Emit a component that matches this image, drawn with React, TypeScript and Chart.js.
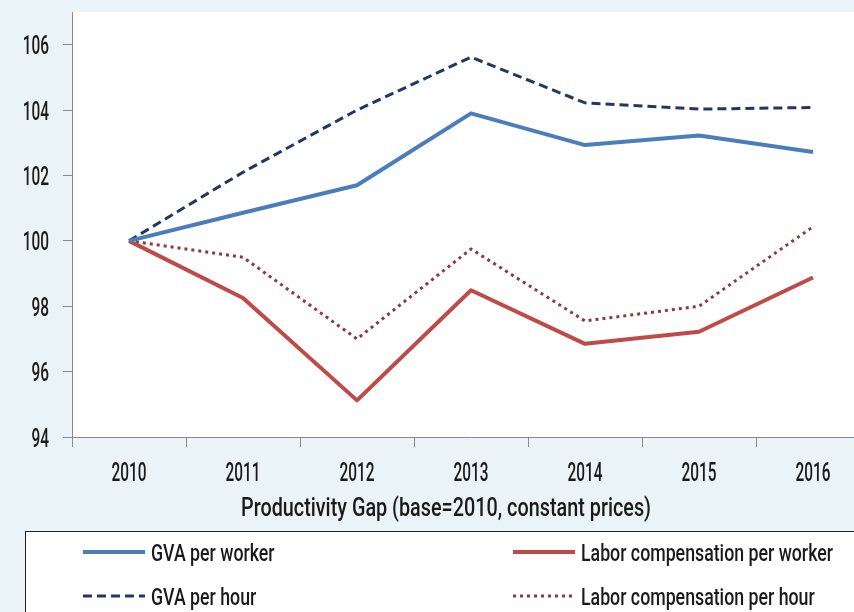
import React, { useEffect, useRef } from "react";
import { Chart, registerables } from "chart.js";

Chart.register(...registerables);

const years = ["2010", "2011", "2012", "2013", "2014", "2015", "2016"];
const gvaPerWorker = [100, 100.86, 101.7, 103.9, 102.93, 103.22, 102.72];
const gvaPerHour = [100, 102.1, 104.0, 105.62, 104.22, 104.03, 104.08];
const laborPerWorker = [100, 98.25, 95.12, 98.49, 96.85, 97.22, 98.88];
const laborPerHour = [100, 99.5, 97.0, 99.75, 97.55, 98.0, 100.43];
const yTickValues = [94, 96, 98, 100, 102, 104, 106];
const xTitle = "Productivity Gap (base=2010, constant prices)";

const FONT = "Roboto, 'DejaVu Sans Condensed', 'Liberation Sans', sans-serif";
const WEIGHT = 500;
const TEXT = "#1a1a1a";
const AXIS = "#8a8a8a";

function squeezed(ctx: any, text: string, x: number, y: number, size: number, sx: number, align: string) {
  ctx.save();
  ctx.font = `${WEIGHT} ${size}px ${FONT}`;
  ctx.textAlign = align;
  ctx.textBaseline = "alphabetic";
  ctx.translate(x, y);
  ctx.scale(sx, 1);
  ctx.fillText(text, 0, 0);
  ctx.restore();
}

function fitScale(ctx: any, sample: string, size: number, target: number) {
  ctx.save();
  ctx.font = `${WEIGHT} ${size}px ${FONT}`;
  const w = ctx.measureText(sample).width;
  ctx.restore();
  return w > 0 ? target / w : 1;
}

const plotBg = {
  id: "plotBg",
  beforeDraw(chart: any) {
    const { ctx, chartArea } = chart;
    ctx.save();
    ctx.fillStyle = "#ffffff";
    ctx.fillRect(chartArea.left, chartArea.top, chartArea.right - chartArea.left, chartArea.bottom - chartArea.top);
    ctx.restore();
  },
};

const textLayer = {
  id: "textLayer",
  afterDraw(chart: any) {
    const { ctx } = chart;
    const xs = chart.scales.x;
    const ys = chart.scales.y;
    ctx.save();
    ctx.fillStyle = TEXT;

    // tick labels (positions from the chart scales)
    const tickSize = 26;
    const tickSx = fitScale(ctx, "2010", tickSize, 35);
    xs.ticks.forEach((t: any, i: number) => {
      const label = xs.getLabelForValue(t.value);
      squeezed(ctx, label, xs.getPixelForTick(i), 481, tickSize, tickSx, "center");
    });
    ys.ticks.forEach((t: any) => {
      squeezed(ctx, String(t.value), 49, ys.getPixelForValue(t.value) + 9.5, tickSize, tickSx, "right");
    });

    // axis title
    const titleSize = 26;
    const titleSx = fitScale(ctx, xTitle, titleSize, 410);
    squeezed(ctx, xTitle, 446, 516, titleSize, titleSx, "center");

    // legend box
    ctx.fillStyle = "#ffffff";
    ctx.fillRect(25.5, 531.5, 900, 200);
    ctx.strokeStyle = "#222222";
    ctx.lineWidth = 1;
    ctx.strokeRect(25.5, 531.5, 900, 200);

    const legSize = 24;
    const legSx = fitScale(ctx, "Labor compensation per worker", legSize, 252);
    const pos = [
      { x: 83, y: 552 },
      { x: 83, y: 596 },
      { x: 513, y: 552 },
      { x: 513, y: 596 },
    ];
    chart.data.datasets.forEach((ds: any, i: number) => {
      const p = pos[i];
      ctx.save();
      ctx.strokeStyle = ds.borderColor;
      ctx.lineWidth = ds.borderWidth;
      ctx.lineCap = "butt";
      ctx.setLineDash(ds.borderDash || []);
      ctx.beginPath();
      ctx.moveTo(p.x, p.y);
      ctx.lineTo(p.x + 62, p.y);
      ctx.stroke();
      ctx.restore();
      ctx.fillStyle = TEXT;
      squeezed(ctx, ds.label, p.x + 68, p.y + 9, legSize, legSx, "left");
    });
    ctx.restore();
  },
};

export default function App() {
  const ref = useRef<HTMLCanvasElement | null>(null);

  useEffect(() => {
    if (!ref.current) return;
    const chart = new Chart(ref.current, {
      type: "line",
      data: {
        labels: years,
        datasets: [
          {
            label: "GVA per worker",
            data: gvaPerWorker,
            borderColor: "#4a7ebb",
            borderWidth: 4,
            pointRadius: 0,
            borderJoinStyle: "round",
            tension: 0,
          },
          {
            label: "GVA per hour",
            data: gvaPerHour,
            borderColor: "#1f3864",
            borderWidth: 3,
            borderDash: [9, 5],
            pointRadius: 0,
            tension: 0,
          },
          {
            label: "Labor compensation per worker",
            data: laborPerWorker,
            borderColor: "#be4b48",
            borderWidth: 4,
            pointRadius: 0,
            borderJoinStyle: "round",
            tension: 0,
          },
          {
            label: "Labor compensation per hour",
            data: laborPerHour,
            borderColor: "#8e3a3a",
            borderWidth: 3,
            borderDash: [3, 4],
            pointRadius: 0,
            tension: 0,
          },
        ],
      },
      options: {
        animation: false,
        responsive: false,
        layout: { padding: { left: 0, top: 12, right: 20, bottom: 163 } },
        plugins: {
          legend: { display: false },
          tooltip: { enabled: false },
          title: { display: false },
        },
        scales: {
          x: {
            type: "category",
            offset: true,
            grid: {
              display: true,
              drawOnChartArea: false,
              drawTicks: true,
              tickLength: 10,
              offset: true,
              color: AXIS,
            },
            border: { display: true, color: AXIS, width: 1 },
            ticks: { display: false, autoSkip: false, maxRotation: 0 },
            afterFit(scale: any) {
              scale.height = 40;
              scale.paddingLeft = 0;
              scale.paddingRight = 0;
            },
          },
          y: {
            type: "linear",
            min: 94,
            max: 107,
            grid: {
              display: true,
              drawOnChartArea: false,
              drawTicks: true,
              tickLength: 9,
              color: AXIS,
            },
            border: { display: true, color: AXIS, width: 1 },
            ticks: { display: false, stepSize: 2 },
            afterBuildTicks(scale: any) {
              scale.ticks = yTickValues.map((v) => ({ value: v }));
            },
            afterFit(scale: any) {
              scale.width = 72;
              scale.paddingTop = 0;
              scale.paddingBottom = 0;
            },
          },
        },
      },
      plugins: [plotBg, textLayer],
    });
    return () => chart.destroy();
  }, []);

  return (
    <div
      style={{
        position: "absolute",
        left: 0,
        top: 0,
        width: 854,
        height: 612,
        overflow: "hidden",
        background: "#eaf3f8",
      }}
    >
      <canvas ref={ref} width={890} height={640} style={{ display: "block", width: 890, height: 640 }} />
    </div>
  );
}
